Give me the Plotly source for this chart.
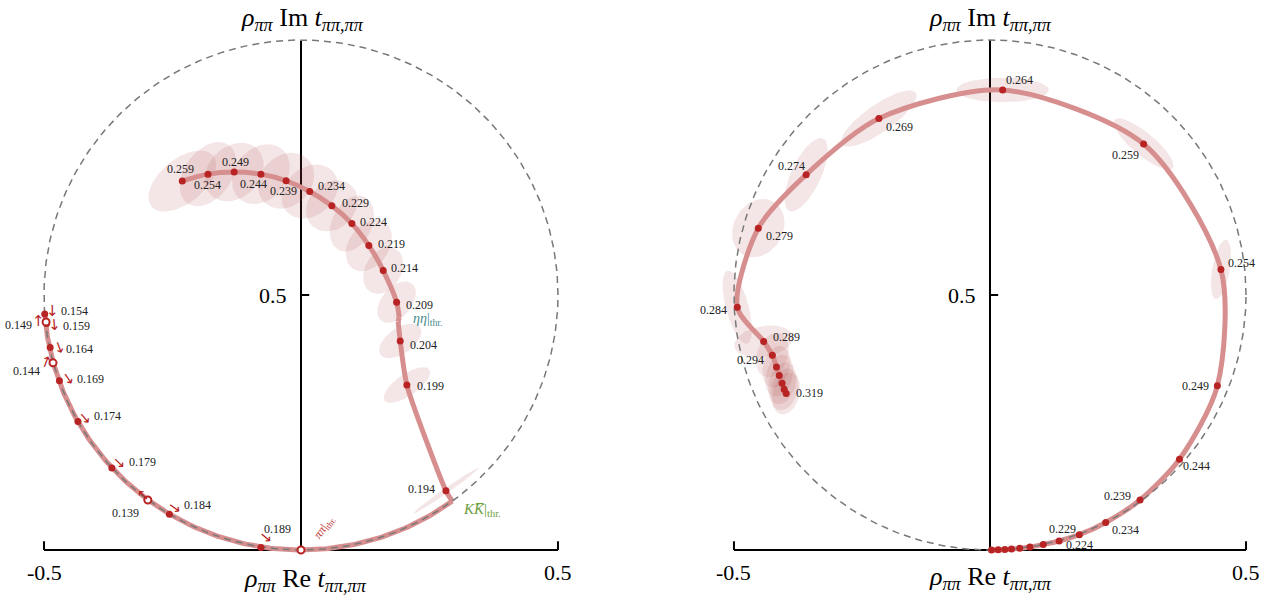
import numpy as np
import plotly.graph_objects as go

FONT = "Liberation Serif"
RED = "rgb(184,36,36)"
BAND = "rgb(214,142,142)"
ELL = "rgba(170,60,60,0.13)"
GREY = "rgb(120,120,120)"

# ---------------- left panel data ----------------
L_up_E = ["0.259", "0.254", "0.249", "0.244", "0.239", "0.234", "0.229", "0.224", "0.219", "0.214", "0.209"]
L_up_re = [-0.231, -0.181, -0.130, -0.078, -0.029, 0.017, 0.060, 0.099, 0.132, 0.160, 0.186]
L_up_im = [0.7235, 0.737, 0.741, 0.737, 0.724, 0.703, 0.675, 0.640, 0.597, 0.548, 0.486]
L_eta_re = [0.191, 0.189]          # eta-eta threshold kink
L_eta_im = [0.456, 0.448]
L_mid_E = ["0.204", "0.199", "0.194"]
L_mid_re = [0.193, 0.206, 0.282]
L_mid_im = [0.410, 0.3235, 0.116]
L_KK = [0.295, 0.095]              # K Kbar threshold
L_arc_E = ["0.154", "0.159", "0.164", "0.169", "0.174", "0.179", "0.184", "0.189"]
L_arc_re = [-0.4986, -0.495, -0.488, -0.470, -0.434, -0.368, -0.256, -0.078]
L_arc_im = [0.4627, 0.444, 0.397, 0.332, 0.252, 0.161, 0.070, 0.005]
L_open_E = ["0.139", "0.144", "0.149"]
L_open_re = [-0.298, -0.4825, -0.496]
L_open_im = [0.098, 0.367, 0.447]
# uncertainty ellipses (semi-axes, tilt in degrees) for 0.259 ... 0.194
L_ell_a = [0.078, 0.070, 0.064, 0.064, 0.060, 0.060, 0.055, 0.058, 0.055, 0.049, 0.047, 0.047, 0.053, 0.078]
L_ell_b = [0.043, 0.046, 0.050, 0.050, 0.049, 0.047, 0.045, 0.039, 0.039, 0.035, 0.029, 0.025, 0.021, 0.005]
L_ell_t = [40, 55, 45, 50, 45, 40, 45, 65, 55, 60, 50, 35, 35, 35]

# ---------------- right panel data ----------------
R_E = ["0.189", "0.194", "0.199", "0.204", "0.209", "0.214", "0.219", "0.224", "0.229", "0.234",
       "0.239", "0.244", "0.249", "0.254", "0.259", "0.264", "0.269", "0.274", "0.279", "0.284",
       "0.289", "0.294", "0.299", "0.304", "0.309", "0.314", "0.319"]
R_re = [0.003, 0.016, 0.029, 0.042, 0.058, 0.078, 0.104, 0.135, 0.1745, 0.226,
        0.293, 0.370, 0.444, 0.451, 0.300, 0.0247, -0.217, -0.359, -0.4525, -0.4935,
        -0.442, -0.425, -0.417, -0.4115, -0.406, -0.402, -0.398]
R_im = [0.0, 0.0003, 0.0008, 0.0018, 0.0034, 0.006, 0.011, 0.0176, 0.030, 0.054,
        0.098, 0.178, 0.322, 0.550, 0.796, 0.902, 0.846, 0.736, 0.631, 0.476,
        0.409, 0.382, 0.359, 0.342, 0.327, 0.315, 0.307]
R_ell_a = [0, 0, 0, 0, 0, 0, 0, 0, 0, 0,
           0, 0, 0, 0.059, 0.074, 0.090, 0.088, 0.078, 0.060, 0.074,
           0.058, 0.045, 0.042, 0.042, 0.042, 0.042, 0.042]
R_ell_b = [0, 0, 0, 0, 0, 0, 0, 0, 0, 0,
           0, 0, 0, 0.017, 0.022, 0.024, 0.027, 0.029, 0.048, 0.022,
           0.030, 0.030, 0.026, 0.026, 0.026, 0.026, 0.026]
R_ell_t = [0, 0, 0, 0, 0, 0, 0, 0, 0, 0,
           0, 0, 0, 80, -40, 0, 35, 65, 60, 105,
           10, 70, 75, 75, 75, 75, 75]
R_labeled = ["0.224", "0.229", "0.234", "0.239", "0.244", "0.249", "0.254", "0.259", "0.264",
             "0.269", "0.274", "0.279", "0.284", "0.289", "0.294", "0.319"]

# ---------------- layout helpers ----------------
fig = go.Figure()
XA = {"L": ("x", "y"), "R": ("x2", "y2")}


def ellipse(cx, cy, a, b, tdeg, n=72):
    t = np.linspace(0, 2 * np.pi, n)
    th = np.deg2rad(tdeg)
    x = cx + a * np.cos(t) * np.cos(th) - b * np.sin(t) * np.sin(th)
    y = cy + a * np.cos(t) * np.sin(th) + b * np.sin(t) * np.cos(th)
    return x, y


def add(tr, p):
    xa, ya = XA[p]
    tr.update(xaxis=xa, yaxis=ya, showlegend=False, hoverinfo="skip")
    fig.add_trace(tr)


# ellipses
for cx, cy, a, b, t in zip(L_up_re + L_mid_re, L_up_im + L_mid_im, L_ell_a, L_ell_b, L_ell_t):
    ex, ey = ellipse(cx, cy, a, b, t)
    add(go.Scatter(x=ex, y=ey, mode="lines", fill="toself", fillcolor=ELL, line=dict(width=0)), "L")
for cx, cy, a, b, t in zip(R_re, R_im, R_ell_a, R_ell_b, R_ell_t):
    if a > 0:
        ex, ey = ellipse(cx, cy, a, b, t)
        add(go.Scatter(x=ex, y=ey, mode="lines", fill="toself", fillcolor=ELL, line=dict(width=0)), "R")

# bands (left)
band = dict(color=BAND, width=5)
add(go.Scatter(x=L_up_re + [L_eta_re[0]], y=L_up_im + [L_eta_im[0]], mode="lines",
               line=dict(band, shape="spline", smoothing=0.8)), "L")
add(go.Scatter(x=L_eta_re, y=L_eta_im, mode="lines", line=band), "L")
add(go.Scatter(x=[L_eta_re[1]] + L_mid_re + [L_KK[0]], y=[L_eta_im[1]] + L_mid_im + [L_KK[1]],
               mode="lines", line=dict(band, shape="spline", smoothing=0.6)), "L")
phi0 = np.arctan2(L_KK[1] - 0.5, L_KK[0])
phi1 = np.arctan2(L_arc_im[0] - 0.5, L_arc_re[0])
phi = np.linspace(phi0, phi1, 200)
add(go.Scatter(x=0.5 * np.cos(phi), y=0.5 + 0.5 * np.sin(phi), mode="lines", line=band), "L")
# band (right)
add(go.Scatter(x=R_re, y=R_im, mode="lines", line=dict(band, shape="spline", smoothing=0.8)), "R")

# dashed unitarity circles
ang = np.linspace(0, 2 * np.pi, 400)
for p in ("L", "R"):
    add(go.Scatter(x=0.5 * np.cos(ang), y=0.5 + 0.5 * np.sin(ang), mode="lines",
                   line=dict(color=GREY, width=1.5, dash="7px,5px")), p)

# points
add(go.Scatter(x=L_up_re + L_mid_re + L_arc_re, y=L_up_im + L_mid_im + L_arc_im, mode="markers",
               marker=dict(color=RED, size=7)), "L")
add(go.Scatter(x=L_open_re + [0.0], y=L_open_im + [0.0], mode="markers",
               marker=dict(color="white", size=7, line=dict(color=RED, width=2))), "L")
add(go.Scatter(x=R_re, y=R_im, mode="markers", marker=dict(color=RED, size=7)), "R")

# axes domains (pixel-calibrated)
W, H = 1272, 600
ydom = [1 - 580.6 / H, 1 - 9.4 / H]
ax = dict(visible=False, fixedrange=True)
fig.update_layout(
    xaxis=dict(ax, range=[-0.58, 0.58], domain=[2.9 / W, 599.1 / W], anchor="y"),
    yaxis=dict(ax, range=[-0.06, 1.06], domain=ydom, anchor="x"),
    xaxis2=dict(ax, range=[-0.58, 0.54], domain=[693.0 / W, 1266.5 / W], anchor="y2"),
    yaxis2=dict(ax, range=[-0.06, 1.06], domain=ydom, anchor="x2"),
)

# axis lines
shapes = []
for xr, yr in (("x", "y"), ("x2", "y2")):
    ln = dict(color="black", width=2)
    shapes += [
        dict(type="line", xref=xr, yref=yr, x0=-0.5, x1=0.5, y0=0, y1=0, line=ln, layer="below"),
        dict(type="line", xref=xr, yref=yr, x0=-0.5, x1=-0.5, y0=0, y1=0.017, line=ln, layer="below"),
        dict(type="line", xref=xr, yref=yr, x0=0.5, x1=0.5, y0=0, y1=0.017, line=ln, layer="below"),
        dict(type="line", xref=xr, yref=yr, x0=0, x1=0, y0=0, y1=1, line=ln, layer="below"),
        dict(type="line", xref=xr, yref=yr, x0=0, x1=0.016, y0=0.5, y1=0.5, line=ln, layer="below"),
    ]
fig.update_layout(shapes=shapes)

ann = []


def lab(p, x, y, text, anchor, dx, dy, size=12, color="#222", family=FONT, angle=0):
    xr, yr = XA[p]
    ann.append(dict(x=x, y=y, xref=xr, yref=yr, text=text, showarrow=False, xanchor=anchor,
                    yanchor="middle", xshift=dx, yshift=dy, textangle=angle,
                    font=dict(family=family, size=size, color=color)))


# left labels: upper / middle branch
L_up_pos = [("center", -2, 12), ("center", 0, -11), ("center", 1, 10), ("center", -7, -10),
            ("center", -3, -10), ("left", 6, 5), ("left", 8, 3), ("left", 6, 2), ("left", 7, 2),
            ("left", 6, 3), ("left", 7, -3)]
for e, x, y, (a, dx, dy) in zip(L_up_E, L_up_re, L_up_im, L_up_pos):
    lab("L", x, y, e, a, dx, dy)
L_mid_pos = [("left", 8, -4), ("left", 8, -1), ("right", -9, 2)]
for e, x, y, (a, dx, dy) in zip(L_mid_E, L_mid_re, L_mid_im, L_mid_pos):
    lab("L", x, y, e, a, dx, dy)

# left arc labels with direction arrows
L_arc_pos = [("left", 14, 3), ("left", 14, -2), ("left", 14, -1), ("left", 16, 2),
             ("left", 14, 5), ("left", 15, 6), ("left", 13, 9), ("center", 17, 18)]
L_arc_arrow = [(8, 3, 0), (8, -1, -5), (9, 0, -20), (9, 2, -35), (8, 3, -40), (8, 5, -45),
               (6, 6, -55), (6, 10, -50)]
for e, x, y, (a, dx, dy), (adx, ady, aang) in zip(L_arc_E, L_arc_re, L_arc_im, L_arc_pos, L_arc_arrow):
    lab("L", x, y, e, a, dx, dy)
    lab("L", x, y, "↓", "center", adx, ady, size=15, color=RED, family="DejaVu Sans", angle=aang)
L_open_pos = [("center", -22, -13), ("right", -11, -8), ("right", -12, -3)]
L_open_arrow = [(-4, 5, -45), (-7, 1, 20), (-8, 1, 0)]
for e, x, y, (a, dx, dy), (adx, ady, aang) in zip(L_open_E, L_open_re, L_open_im, L_open_pos, L_open_arrow):
    lab("L", x, y, e, a, dx, dy)
    lab("L", x, y, "↑", "center", adx, ady, size=15, color=RED, family="DejaVu Sans", angle=aang)

# thresholds
lab("L", 0, 0, "<i>ππ</i>|<sub>thr.</sub>", "center", 23, 22, size=12, color=RED, angle=-55)
lab("L", L_eta_re[0], L_eta_im[0], "<i>ηη</i>|<sub>thr.</sub>", "left", 12, -2, size=14,
    color="rgb(70,140,140)")
lab("L", L_KK[0], L_KK[1], "<i>KK\u0305</i>|<sub>thr.</sub>", "left", 8, -8, size=15,
    color="rgb(110,160,60)")

# right labels
R_pos = {"0.224": ("left", 5, -4), "0.229": ("center", -17, 6), "0.234": ("left", 4, -8),
         "0.239": ("right", -7, 4), "0.244": ("left", 2, -7), "0.249": ("right", -6, 0),
         "0.254": ("left", 5, 7), "0.259": ("right", -3, -11), "0.264": ("left", 1, 10),
         "0.269": ("left", 5, -8), "0.274": ("center", -15, 9), "0.279": ("left", 6, -8),
         "0.284": ("right", -8, -3), "0.289": ("left", 7, 4), "0.294": ("right", -6, -5),
         "0.319": ("left", 8, 0)}
for e, x, y in zip(R_E, R_re, R_im):
    if e in R_labeled:
        a, dx, dy = R_pos[e]
        lab("R", x, y, e, a, dx, dy)

# tick labels
for p in ("L", "R"):
    lab(p, -0.5, 0, "-0.5", "center", 0, -22, size=22, color="black")
    lab(p, 0.5, 0, "0.5", "center", 0, -22, size=22, color="black")
    lab(p, 0, 0.5, "0.5", "right", -12, 0, size=22, color="black")

# axis titles
t_im = "<i>ρ</i><sub><i>ππ</i></sub> Im <i>t</i><sub><i>ππ,ππ</i></sub>"
t_re = "<i>ρ</i><sub><i>ππ</i></sub> Re <i>t</i><sub><i>ππ,ππ</i></sub>"
for x, t in ((302, t_im), (990, t_im)):
    ann.append(dict(x=x / W, y=1, xref="paper", yref="paper", text=t, showarrow=False,
                    xanchor="center", yanchor="top", yshift=-1,
                    font=dict(family=FONT, size=26, color="black")))
for x, y, t in ((305, 580, t_re), (990, 578, t_re)):
    ann.append(dict(x=x / W, y=1 - y / H, xref="paper", yref="paper", text=t, showarrow=False,
                    xanchor="center", yanchor="middle", font=dict(family=FONT, size=26, color="black")))

fig.update_layout(annotations=ann, width=W, height=H, margin=dict(l=0, r=0, t=0, b=0),
                  paper_bgcolor="white", plot_bgcolor="white", showlegend=False)
fig.write_html("out.html", config={"displayModeBar": False},
               post_script="document.body.style.margin='0px';document.body.style.overflow='hidden';")
